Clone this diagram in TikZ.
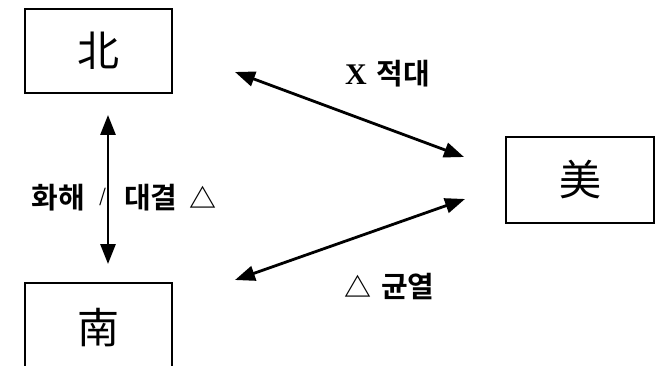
\documentclass[tikz,border=0pt]{standalone}
\usepackage{fontspec}
\newfontfamily\kr{Noto Sans CJK KR}
\newfontfamily\krb{Noto Sans CJK KR Bold}
\newfontfamily\serb{Liberation Serif}
\usetikzlibrary{arrows.meta}
\begin{document}
\begin{tikzpicture}[x=1pt,y=-1pt,
  box/.style={draw,line width=1.6pt,minimum width=147pt,minimum height=84pt,inner sep=0pt,font=\kr\fontsize{42}{42}\selectfont},
  lbl/.style={inner sep=0pt,font=\krb\fontsize{29}{29}\selectfont},
  rel/.style={line width=2.8pt,{Triangle[length=20pt,width=15pt]}-{Triangle[length=20pt,width=15pt]}}]
\useasboundingbox (0,0) rectangle (663,366);
\node[box] (N) at (98.5,51) {北};
\node[box,minimum height=90pt] (S) at (98.5,328) {南};
\node[box,minimum width=148pt,minimum height=86pt] (U) at (580,180) {美};
\coordinate (a1) at (108,115);
\coordinate (a2) at (108,264);
\draw[rel] (a1) -- (a2);
\coordinate (b1) at (235,72);
\coordinate (b2) at (464,157);
\draw[rel] (b1) -- (b2);
\coordinate (c1) at (235,280);
\coordinate (c2) at (465,199);
\draw[rel] (c1) -- (c2);
\node[lbl,anchor=east] (l1) at (85,198) {화해};
\node[lbl,font=\kr\fontsize{18}{18}\selectfont] (sl) at (103,197) {/};
\node[lbl,anchor=west] (l2) at (124,198) {대결\hspace{12pt}{\fontsize{27}{27}\selectfont △}};
\node[lbl,anchor=west] (l3) at (345,74) {{\serb\bfseries\fontsize{30}{30}\selectfont X}\hspace{10pt}적대};
\node[lbl,anchor=west] (l4) at (344,287) {{\fontsize{27}{27}\selectfont △}\hspace{10pt}균열};
\end{tikzpicture}
\end{document}
